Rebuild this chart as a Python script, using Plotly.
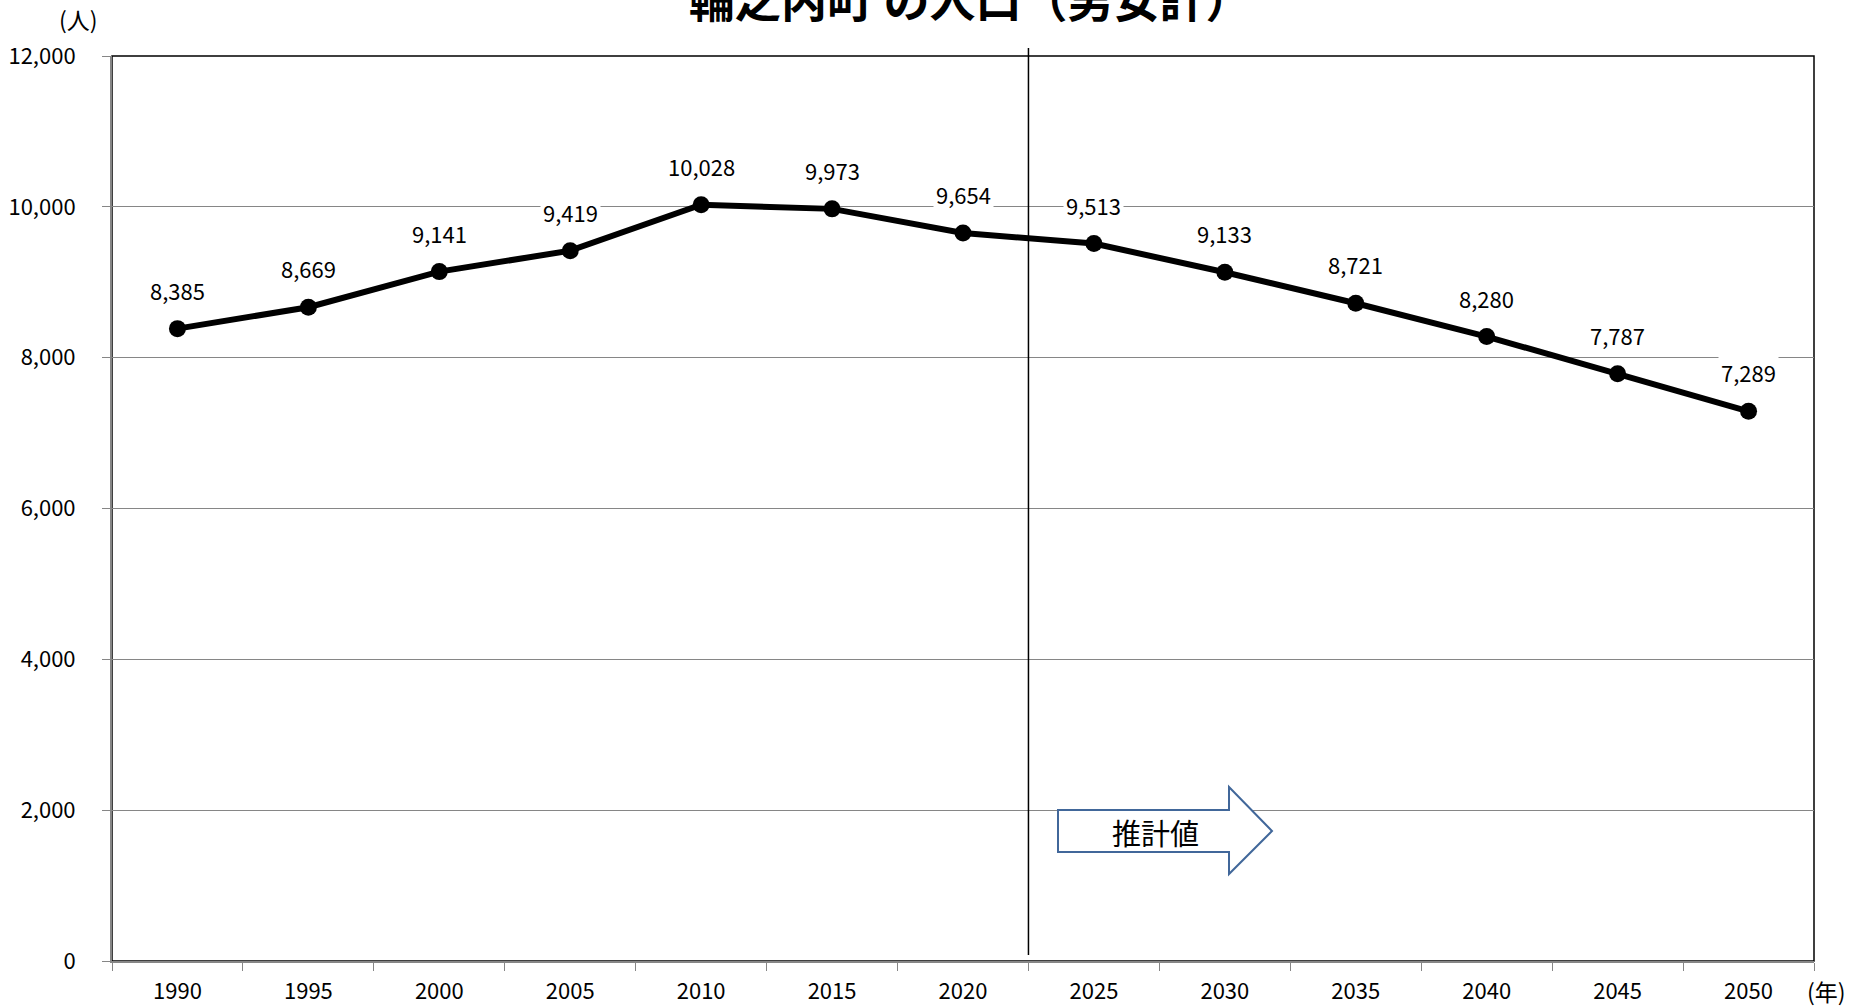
import plotly.graph_objects as go

years = ["1990", "1995", "2000", "2005", "2010", "2015", "2020",
         "2025", "2030", "2035", "2040", "2045", "2050"]
population = [8385, 8669, 9141, 9419, 10028, 9973, 9654,
              9513, 9133, 8721, 8280, 7787, 7289]
y_ticks = [0, 2000, 4000, 6000, 8000, 10000, 12000]

title_text = "輪之内町 の人口（男女計）"
estimate_text = "推計値"
FONT = "Noto Sans CJK JP, Noto Sans, sans-serif"

W, H = 1858, 1007
L, R, T, B = 112, 44, 56, 46
plot_w = W - L - R
plot_h = H - T - B


def px_x(p):
    return (p - L) / plot_w


def px_y(p):
    return (H - B - p) / plot_h


def text_note(text, x, y, size, bold=False):
    return dict(text=("<b>" + text + "</b>") if bold else text,
                xref="paper", yref="paper", x=px_x(x), y=px_y(y),
                xanchor="center", yanchor="middle", showarrow=False,
                font=dict(family=FONT, size=size, color="black"))


fig = go.Figure()
fig.add_trace(go.Scatter(
    x=years,
    y=population,
    mode="lines+markers",
    line=dict(color="black", width=6),
    marker=dict(color="black", size=17),
    hoverinfo="x+y",
    showlegend=False,
))

# data labels with white background (they cut through gridlines)
annotations = []
for i, val in enumerate(population):
    annotations.append(dict(
        x=i, y=val, xref="x", yref="y",
        text=f"{val:,}", showarrow=False,
        xanchor="center", yanchor="middle",
        yshift=39, bgcolor="white", borderpad=2,
        font=dict(family=FONT, size=22, color="black"),
    ))

annotations += [
    text_note(title_text, 970, -3, 46, bold=True),
    text_note("(人)", 78, 19, 23),
    text_note("(年)", 1826, 991, 23),
    text_note(estimate_text, 1155, 832, 29),
]

# block arrow around 推計値
pts = [(1058, 810), (1229, 810), (1229, 787), (1272, 831),
       (1229, 874), (1229, 852), (1058, 852)]
path = "M " + " L ".join(f"{px_x(a):.5f},{px_y(b):.5f}" for a, b in pts) + " Z"

shapes = [
    dict(type="path", path=path, xref="paper", yref="paper",
         line=dict(color="#41679A", width=2), fillcolor="white", layer="above"),
    # divider between actual and estimated values
    dict(type="line", xref="x", yref="paper", x0=6.5, x1=6.5,
         y0=px_y(955), y1=px_y(48), line=dict(color="black", width=1.5)),
    # plot area border
    dict(type="rect", xref="paper", yref="paper", x0=0, x1=1, y0=0, y1=1,
         line=dict(color="black", width=1.5), layer="below"),
]

fig.update_layout(
    width=W, height=H,
    margin=dict(l=L, r=R, t=T, b=B),
    paper_bgcolor="white",
    plot_bgcolor="white",
    font=dict(family=FONT, size=22, color="black"),
    annotations=annotations,
    shapes=shapes,
)

fig.update_xaxes(
    type="category",
    range=[-0.5, len(years) - 0.5],
    showgrid=False,
    showline=True, linecolor="#868686", linewidth=2,
    ticks="outside", tickson="boundaries", ticklen=8, tickcolor="#868686",
    ticklabelstandoff=10,
    tickfont=dict(family=FONT, size=22, color="black"),
    zeroline=False, automargin=False,
)
fig.update_yaxes(
    range=[0, 12000],
    tickvals=y_ticks,
    ticktext=[f"{v:,}" for v in y_ticks],
    showgrid=True, gridcolor="#868686", gridwidth=1,
    showline=True, linecolor="#868686", linewidth=2,
    ticks="outside", ticklen=8, tickcolor="#868686",
    ticklabelstandoff=22,
    tickfont=dict(family=FONT, size=22, color="black"),
    zeroline=False, automargin=False,
)

# remove the default page margin so the figure fills the window exactly
fig.write_html("out.html", config={"displayModeBar": False},
               post_script="document.body.style.margin='0';")
